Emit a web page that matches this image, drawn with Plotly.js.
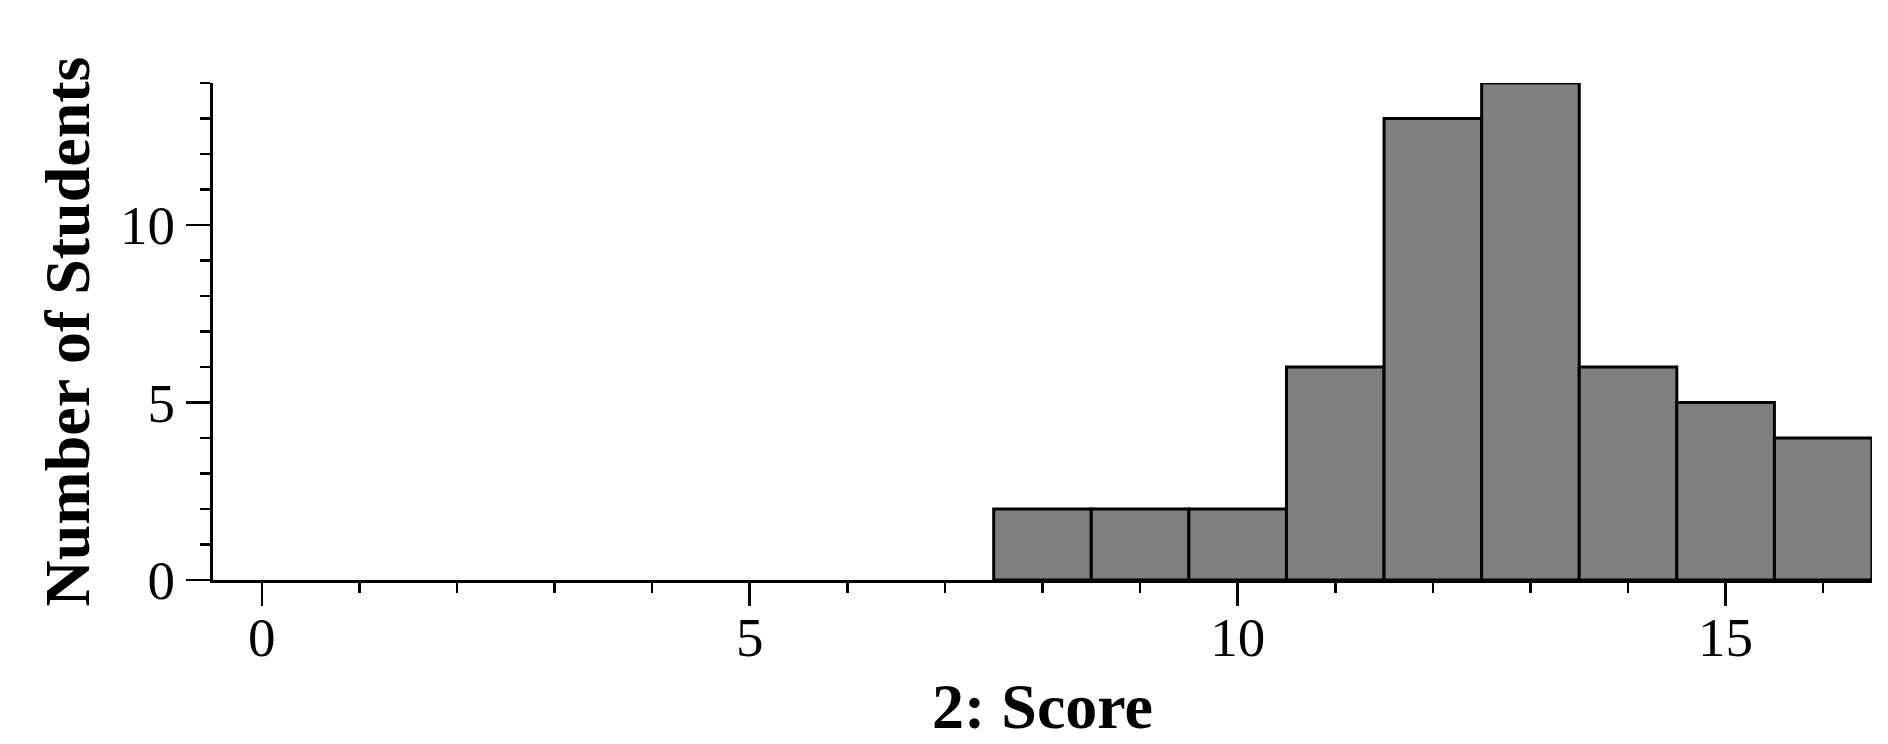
<!DOCTYPE html>
<html>
<head>
<meta charset="utf-8">
<script src="https://cdn.plot.ly/plotly-3.0.1.min.js"></script>
<style>html,body{margin:0;padding:0;background:#fff;}#chart{width:1888px;height:744px;}</style>
</head>
<body>
<div id="chart"></div>
<script>
// Score bins (integer scores) and number of students in each
const scores = [0, 1, 2, 3, 4, 5, 6, 7, 8, 9, 10, 11, 12, 13, 14, 15, 16];
const counts = [0, 0, 0, 0, 0, 0, 0, 0, 2, 2, 2, 6, 13, 14, 6, 5, 4];
const xTickVals = [0, 5, 10, 15];
const yTickVals = [0, 5, 10];
const xTitle = "2: Score";
const yTitle = "Number of Students";

const serif = "Liberation Serif, Times New Roman, serif";

const trace = {
  type: "bar",
  x: scores.filter((s, i) => counts[i] > 0),
  y: counts.filter(c => c > 0),
  width: 1,
  marker: { color: "#808080", line: { color: "#000000", width: 3 } },
  hoverinfo: "x+y"
};

const layout = {
  width: 1888,
  height: 744,
  margin: { l: 213, r: 16, t: 83, b: 164 },
  paper_bgcolor: "#ffffff",
  plot_bgcolor: "#ffffff",
  showlegend: false,
  bargap: 0,
  font: { family: serif, color: "#000000", size: 55 },
  xaxis: {
    range: [-0.5, 16.5],
    tickmode: "array",
    tickvals: xTickVals,
    ticktext: xTickVals.map(String),
    ticks: "outside",
    ticklen: 23,
    tickwidth: 2.5,
    tickcolor: "#000",
    ticklabelstandoff: -16,
    minor: { dtick: 1, tick0: 0, ticks: "outside", ticklen: 10, tickwidth: 2.5, tickcolor: "#000", showgrid: false },
    showline: true,
    linecolor: "#000",
    linewidth: 3,
    showgrid: false,
    zeroline: false,
    tickfont: { family: serif, size: 55, color: "#000" },
    title: { text: "<b>" + xTitle + "</b>", font: { family: serif, size: 64, color: "#000" }, standoff: 17 },
    fixedrange: true
  },
  yaxis: {
    range: [0, 14],
    tickmode: "array",
    tickvals: yTickVals,
    ticktext: yTickVals.map(String),
    ticks: "outside",
    ticklen: 24,
    tickwidth: 2.5,
    tickcolor: "#000",
    minor: { dtick: 1, tick0: 0, ticks: "outside", ticklen: 10, tickwidth: 2.5, tickcolor: "#000", showgrid: false },
    showline: true,
    linecolor: "#000",
    linewidth: 3,
    showgrid: false,
    zeroline: false,
    tickfont: { family: serif, size: 55, color: "#000" },
    title: { text: "<b>" + yTitle + "</b>", font: { family: serif, size: 64, color: "#000" }, standoff: 10 },
    fixedrange: true
  }
};

Plotly.newPlot("chart", [trace], layout, { displayModeBar: false, staticPlot: true });
</script>
</body>
</html>
